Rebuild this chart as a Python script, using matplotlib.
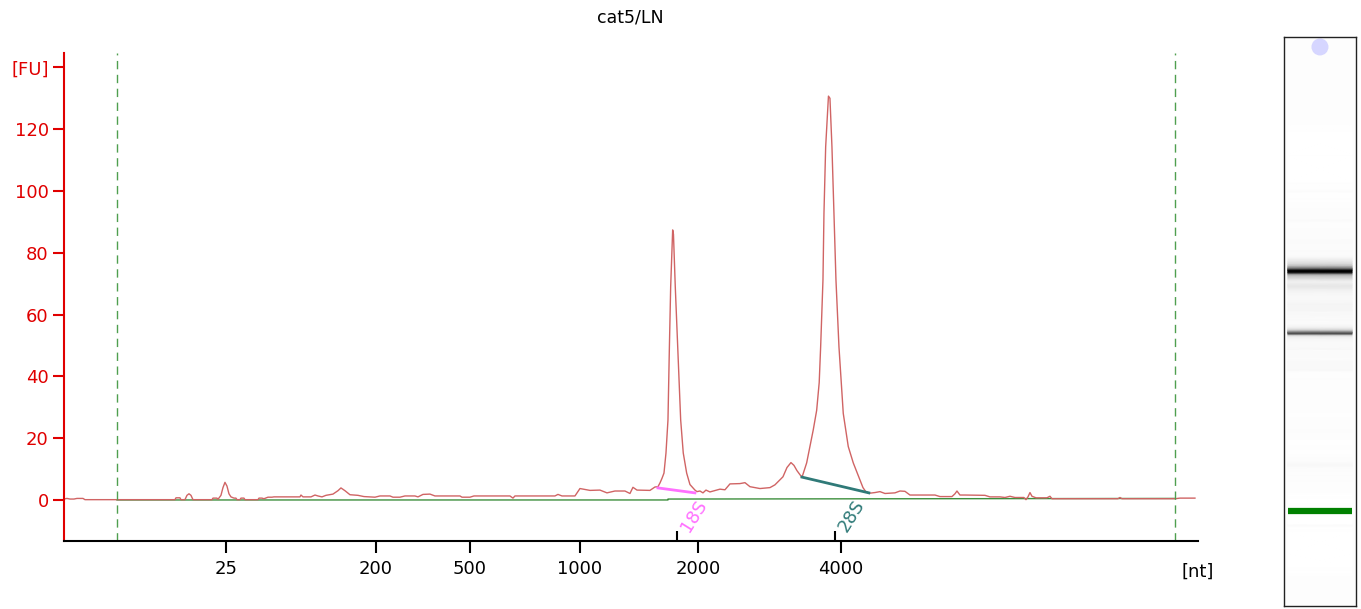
import numpy as np
import matplotlib
matplotlib.use("Agg")
import matplotlib.pyplot as plt
from matplotlib.colors import LinearSegmentedColormap

# electropherogram: migration time [s] vs fluorescence [FU]
time_s = [20.000, 20.132, 20.265, 20.441, 20.573, 20.838, 20.926, 22.337, 24.894, 24.938,
          25.115, 25.159, 25.335, 25.423, 25.512, 25.600, 25.688, 26.526, 26.570, 26.746,
          26.790, 26.922, 27.011, 27.099, 27.187, 27.275, 27.363, 27.496, 27.584, 27.628,
          27.760, 27.804, 27.937, 27.981, 28.554, 28.598, 28.730, 28.818, 28.995, 29.171,
          29.259, 29.965, 30.406, 30.450, 30.538, 30.891, 31.067, 31.199, 31.376, 31.552,
          31.861, 32.081, 32.213, 32.390, 32.610, 32.963, 33.228, 33.713, 33.933, 34.374,
          34.506, 34.815, 35.035, 35.476, 35.609, 35.829, 36.138, 36.358, 37.460, 37.549,
          37.901, 38.078, 39.665, 39.797, 39.885, 41.649, 41.781, 41.958, 42.531, 42.751,
          42.972, 43.192, 43.633, 43.942, 44.294, 44.735, 44.956, 45.088, 45.265, 45.838,
          46.058, 46.191, 46.279, 46.368, 46.456, 46.544, 46.632, 46.689, 46.751, 46.839,
          46.874, 46.954, 47.073, 47.192, 47.306, 47.456, 47.601, 47.822, 47.910, 48.042,
          48.175, 48.307, 48.483, 48.924, 49.145, 49.365, 49.806, 50.027, 50.247, 50.688,
          51.129, 51.349, 51.570, 51.702, 51.879, 52.055, 52.187, 52.319, 52.540, 52.747,
          52.893, 53.038, 53.188, 53.300, 53.364, 53.466, 53.510, 53.585, 53.708, 53.774,
          53.862, 53.951, 54.039, 54.171, 54.361, 54.581, 54.802, 55.097, 55.230, 55.362,
          55.538, 55.759, 55.979, 56.200, 56.420, 56.640, 56.861, 57.081, 57.302, 58.404,
          58.625, 59.154, 59.286, 59.374, 59.506, 59.727, 60.609, 60.829, 61.270, 61.491,
          61.711, 61.931, 62.328, 62.417, 62.505, 62.593, 62.681, 62.858, 63.034, 63.342,
          63.475, 63.563, 66.473, 66.561, 66.649, 68.986, 69.206, 69.868]
fu = [0.3, 0.5, 0.3, 0.3, 0.5, 0.5, 0.1, 0.1, 0.1, 0.7,
      0.7, 0.1, 0.1, 1.5, 2.0, 1.5, 0.1, 0.1, 0.6, 0.6,
      0.2, 1.5, 4.0, 5.7, 4.5, 2.0, 1.0, 0.6, 0.6, 0.1,
      0.1, 0.6, 0.6, 0.1, 0.1, 0.6, 0.6, 0.4, 0.9, 0.9,
      1.0, 1.0, 1.0, 1.6, 1.0, 1.0, 1.6, 1.3, 1.0, 1.5,
      1.9, 3.0, 3.9, 3.0, 1.7, 1.5, 1.1, 0.9, 1.3, 1.3,
      0.9, 0.9, 1.3, 1.3, 1.0, 1.8, 1.9, 1.3, 1.3, 0.9,
      0.9, 1.3, 1.3, 0.6, 1.3, 1.3, 1.8, 1.3, 1.3, 3.7,
      3.4, 3.1, 3.2, 2.3, 2.9, 2.9, 2.1, 4.1, 3.2, 3.1,
      4.2, 4.3, 5.5, 7.0, 8.7, 15.2, 25.9, 47.5, 69.0, 87.4,
      86.0, 69.0, 47.5, 25.9, 15.2, 8.7, 5.0, 3.2, 2.7, 2.9,
      2.3, 3.2, 2.6, 3.5, 3.3, 5.2, 5.3, 5.6, 4.3, 3.7,
      4.0, 4.9, 6.5, 7.5, 10.5, 12.1, 11.2, 9.5, 7.3, 12.0,
      17.3, 22.7, 29.0, 38.0, 49.6, 71.2, 92.8, 114.3, 130.7, 130.0,
      114.3, 92.8, 71.2, 49.6, 28.0, 17.3, 12.0, 6.5, 4.0, 2.6,
      2.2, 2.4, 2.7, 2.1, 2.2, 2.3, 2.9, 2.8, 1.6, 1.6,
      1.1, 1.1, 2.0, 2.9, 1.6, 1.6, 1.5, 1.0, 1.0, 0.8,
      1.2, 0.8, 0.8, 0.1, 1.0, 2.4, 1.2, 0.7, 0.7, 0.7,
      1.2, 0.4, 0.4, 0.8, 0.4, 0.4, 0.6, 0.6]

baseline_t = [22.337, 46.632, 46.632, 68.986]
baseline_fu = [0.0, 0.0, 0.3, 0.5]

# ladder sizes on the x axis
ladder_t = [27.14, 33.76, 37.90, 42.75, 47.95, 54.26]
ladder_nt = ["25", "200", "500", "1000", "2000", "4000"]

# start / end of the analysis window
window_t = [22.337, 68.986]

# ribosomal peaks
peak_names = ["18S", "28S"]
peak_t = [47.03, 54.00]
peak_start = [(46.19, 3.9), (52.54, 7.4)]
peak_end = [(47.82, 2.3), (55.49, 2.3)]
peak_colors = ["#ff70ff", "#2f7a78"]

marker_t = 27.10      # lower marker, drawn green in the gel lane
upper_spot_t = 78.55  # bluish spot at top of lane
lane_t = (16.57, 79.65)

fig = plt.figure(figsize=(13.61, 6.09), dpi=100)
ax = fig.add_axes([0.0470, 0.1117, 0.8332, 0.8013])

ax.plot(baseline_t, baseline_fu, color="#3d8f3d", lw=1.0)
ax.plot(time_s, fu, color="#d06464", lw=1.0)
for x in window_t:
    ax.axvline(x, color="#4f9f4f", lw=1.0, ls=(0, (6, 4)))

for name, t, a, b, c in zip(peak_names, peak_t, peak_start, peak_end, peak_colors):
    ax.plot([a[0], b[0]], [a[1], b[1]], color=c, lw=2.0)
    ax.text(t + 0.74, -5.2, name, color=c, fontsize=13, rotation=58,
            ha="center", va="center")

ax.set_xlim(20, 70)
ax.set_ylim(-13.27, 144.66)

ax.set_yticks([0, 20, 40, 60, 80, 100, 120, 140])
ax.set_yticklabels(["0", "20", "40", "60", "80", "100", "120", "[FU]"])
ax.tick_params(axis="y", colors="#e00000", labelcolor="#e00000", length=8,
               width=1.5, labelsize=13, pad=3)

ax.set_xticks(ladder_t)
ax.set_xticklabels(ladder_nt)
ax.set_xticks(peak_t, minor=True)
ax.tick_params(axis="x", which="major", direction="out", length=8.5, width=1.5,
               labelsize=13, pad=5)
ax.tick_params(axis="x", which="minor", direction="in", length=7, width=1.5)
ax.text(1.0, -0.064, "[nt]", transform=ax.transAxes, ha="center", va="center",
        fontsize=13)

ax.spines["top"].set_visible(False)
ax.spines["right"].set_visible(False)
ax.spines["left"].set_color("#e00000")
ax.spines["left"].set_linewidth(1.5)
ax.spines["bottom"].set_linewidth(1.5)

fig.text(0.463, 0.972, "cat5/LN", ha="center", va="center", fontsize=12.5)

# gel lane
lane = fig.add_axes([0.9434, 0.0049, 0.0529, 0.9343])
cmap = LinearSegmentedColormap.from_list("gel", ["#ffffff", "#000000"])
tt = np.array(time_s)
vv = np.array(fu)
X = np.column_stack([np.full(len(tt), 0.055), np.full(len(tt), 0.945)])
Y = np.column_stack([tt, tt])
C = np.column_stack([vv, vv])
lane.set_facecolor("#fdfdfd")
lane.pcolormesh(X, Y, C, shading="gouraud", cmap=cmap, vmin=0, vmax=125)
lane.plot([0.055, 0.945], [marker_t, marker_t], color="#008000", lw=4.5,
          solid_capstyle="butt")
lane.scatter([0.5], [upper_spot_t], s=150, color="#d6d6ff", edgecolors="none")
lane.set_xlim(0, 1)
lane.set_ylim(*lane_t)
lane.set_xticks([])
lane.set_yticks([])
for s in lane.spines.values():
    s.set_linewidth(1.0)
    s.set_color("#222222")

fig.savefig("out.png", dpi=100)
